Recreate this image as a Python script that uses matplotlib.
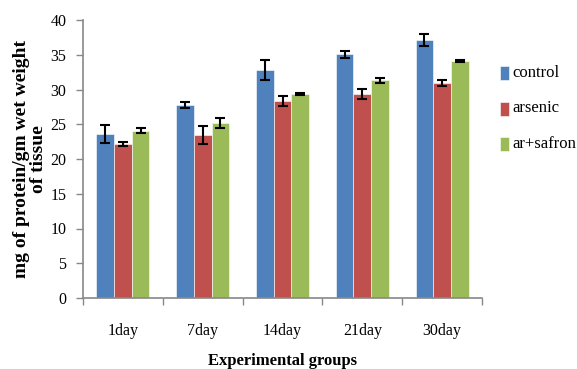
import matplotlib
matplotlib.use("Agg")
import matplotlib.pyplot as plt
from matplotlib.patches import Rectangle
import numpy as np

categories = ["1day", "7day", "14day", "21day", "30day"]
series_names = ["control", "arsenic", "ar+safron"]
control = [23.6, 27.8, 32.8, 35.1, 37.1]
arsenic = [22.2, 23.4, 28.3, 29.4, 30.9]
ar_safron = [24.1, 25.2, 29.3, 31.3, 34.1]
control_err = [1.3, 0.45, 1.4, 0.5, 0.85]
arsenic_err = [0.3, 1.3, 0.7, 0.7, 0.4]
ar_safron_err = [0.4, 0.7, 0.15, 0.4, 0.2]
y_ticks = [0, 5, 10, 15, 20, 25, 30, 35, 40]

colors = ["#4F81BD", "#C0504D", "#9BBB59"]
plt.rcParams["font.family"] = "serif"
plt.rcParams["font.serif"] = ["Liberation Serif", "DejaVu Serif"]

W, H = 577, 369
fig = plt.figure(figsize=(W / 100, H / 100), dpi=100)
ax = fig.add_axes([83 / W, 1 - 298 / H, (482 - 83) / W, (298 - 20) / H])

x = np.arange(len(categories))
width = 0.222
values = [control, arsenic, ar_safron]
errors = [control_err, arsenic_err, ar_safron_err]
for i, (vals, errs, name, c) in enumerate(zip(values, errors, series_names, colors)):
    ax.bar(x + (i - 1) * width, vals, width, color=c, label=name,
           edgecolor="white", linewidth=0.4,
           yerr=errs, error_kw=dict(ecolor="black", elinewidth=1.5,
                                    capsize=3.5, capthick=1.5))

ax.set_xlim(-0.5, len(categories) - 0.5)
ax.set_ylim(0, 40)
ax.set_yticks(y_ticks)
ax.set_xticks(x)
ax.set_xticklabels(categories)
ax.set_xticks(np.arange(len(categories) + 1) - 0.5, minor=True)
ax.tick_params(axis="x", which="major", length=0, pad=18, labelsize=11.5)
ax.tick_params(axis="x", which="minor", length=5, color="#888888", width=1)
ax.tick_params(axis="y", length=5, color="#888888", width=1, pad=7, labelsize=11.5)

for side in ["top", "right"]:
    ax.spines[side].set_visible(False)
for side in ["left", "bottom"]:
    ax.spines[side].set_color("#888888")
    ax.spines[side].set_linewidth(1.2)

ax.set_xlabel("Experimental groups", fontsize=12, fontweight="bold")
ax.xaxis.set_label_coords(0.5, -(361 - 298) / 278, transform=ax.transAxes)
ax.xaxis.label.set_va("center")
ax.set_ylabel("mg of protein/gm wet weight\nof tissue",
              fontsize=14, fontweight="bold", linespacing=1.05)
ax.yaxis.set_label_coords(-(83 - 30) / 399, 0.5, transform=ax.transAxes)
ax.yaxis.label.set_va("center")

# Key: colour swatch plus series name, one row per series
for row, (name, c) in enumerate(zip(series_names, colors)):
    yc = 73 + row * 35.5
    fig.patches.append(Rectangle((500 / W, 1 - (yc + 7) / H), 9 / W, 14 / H,
                                 transform=fig.transFigure, facecolor=c,
                                 edgecolor="white", linewidth=0.4))
    fig.text(512 / W, 1 - yc / H, name, fontsize=12, va="center", ha="left",
             family="Liberation Serif")

fig.savefig("out.png", dpi=100)
